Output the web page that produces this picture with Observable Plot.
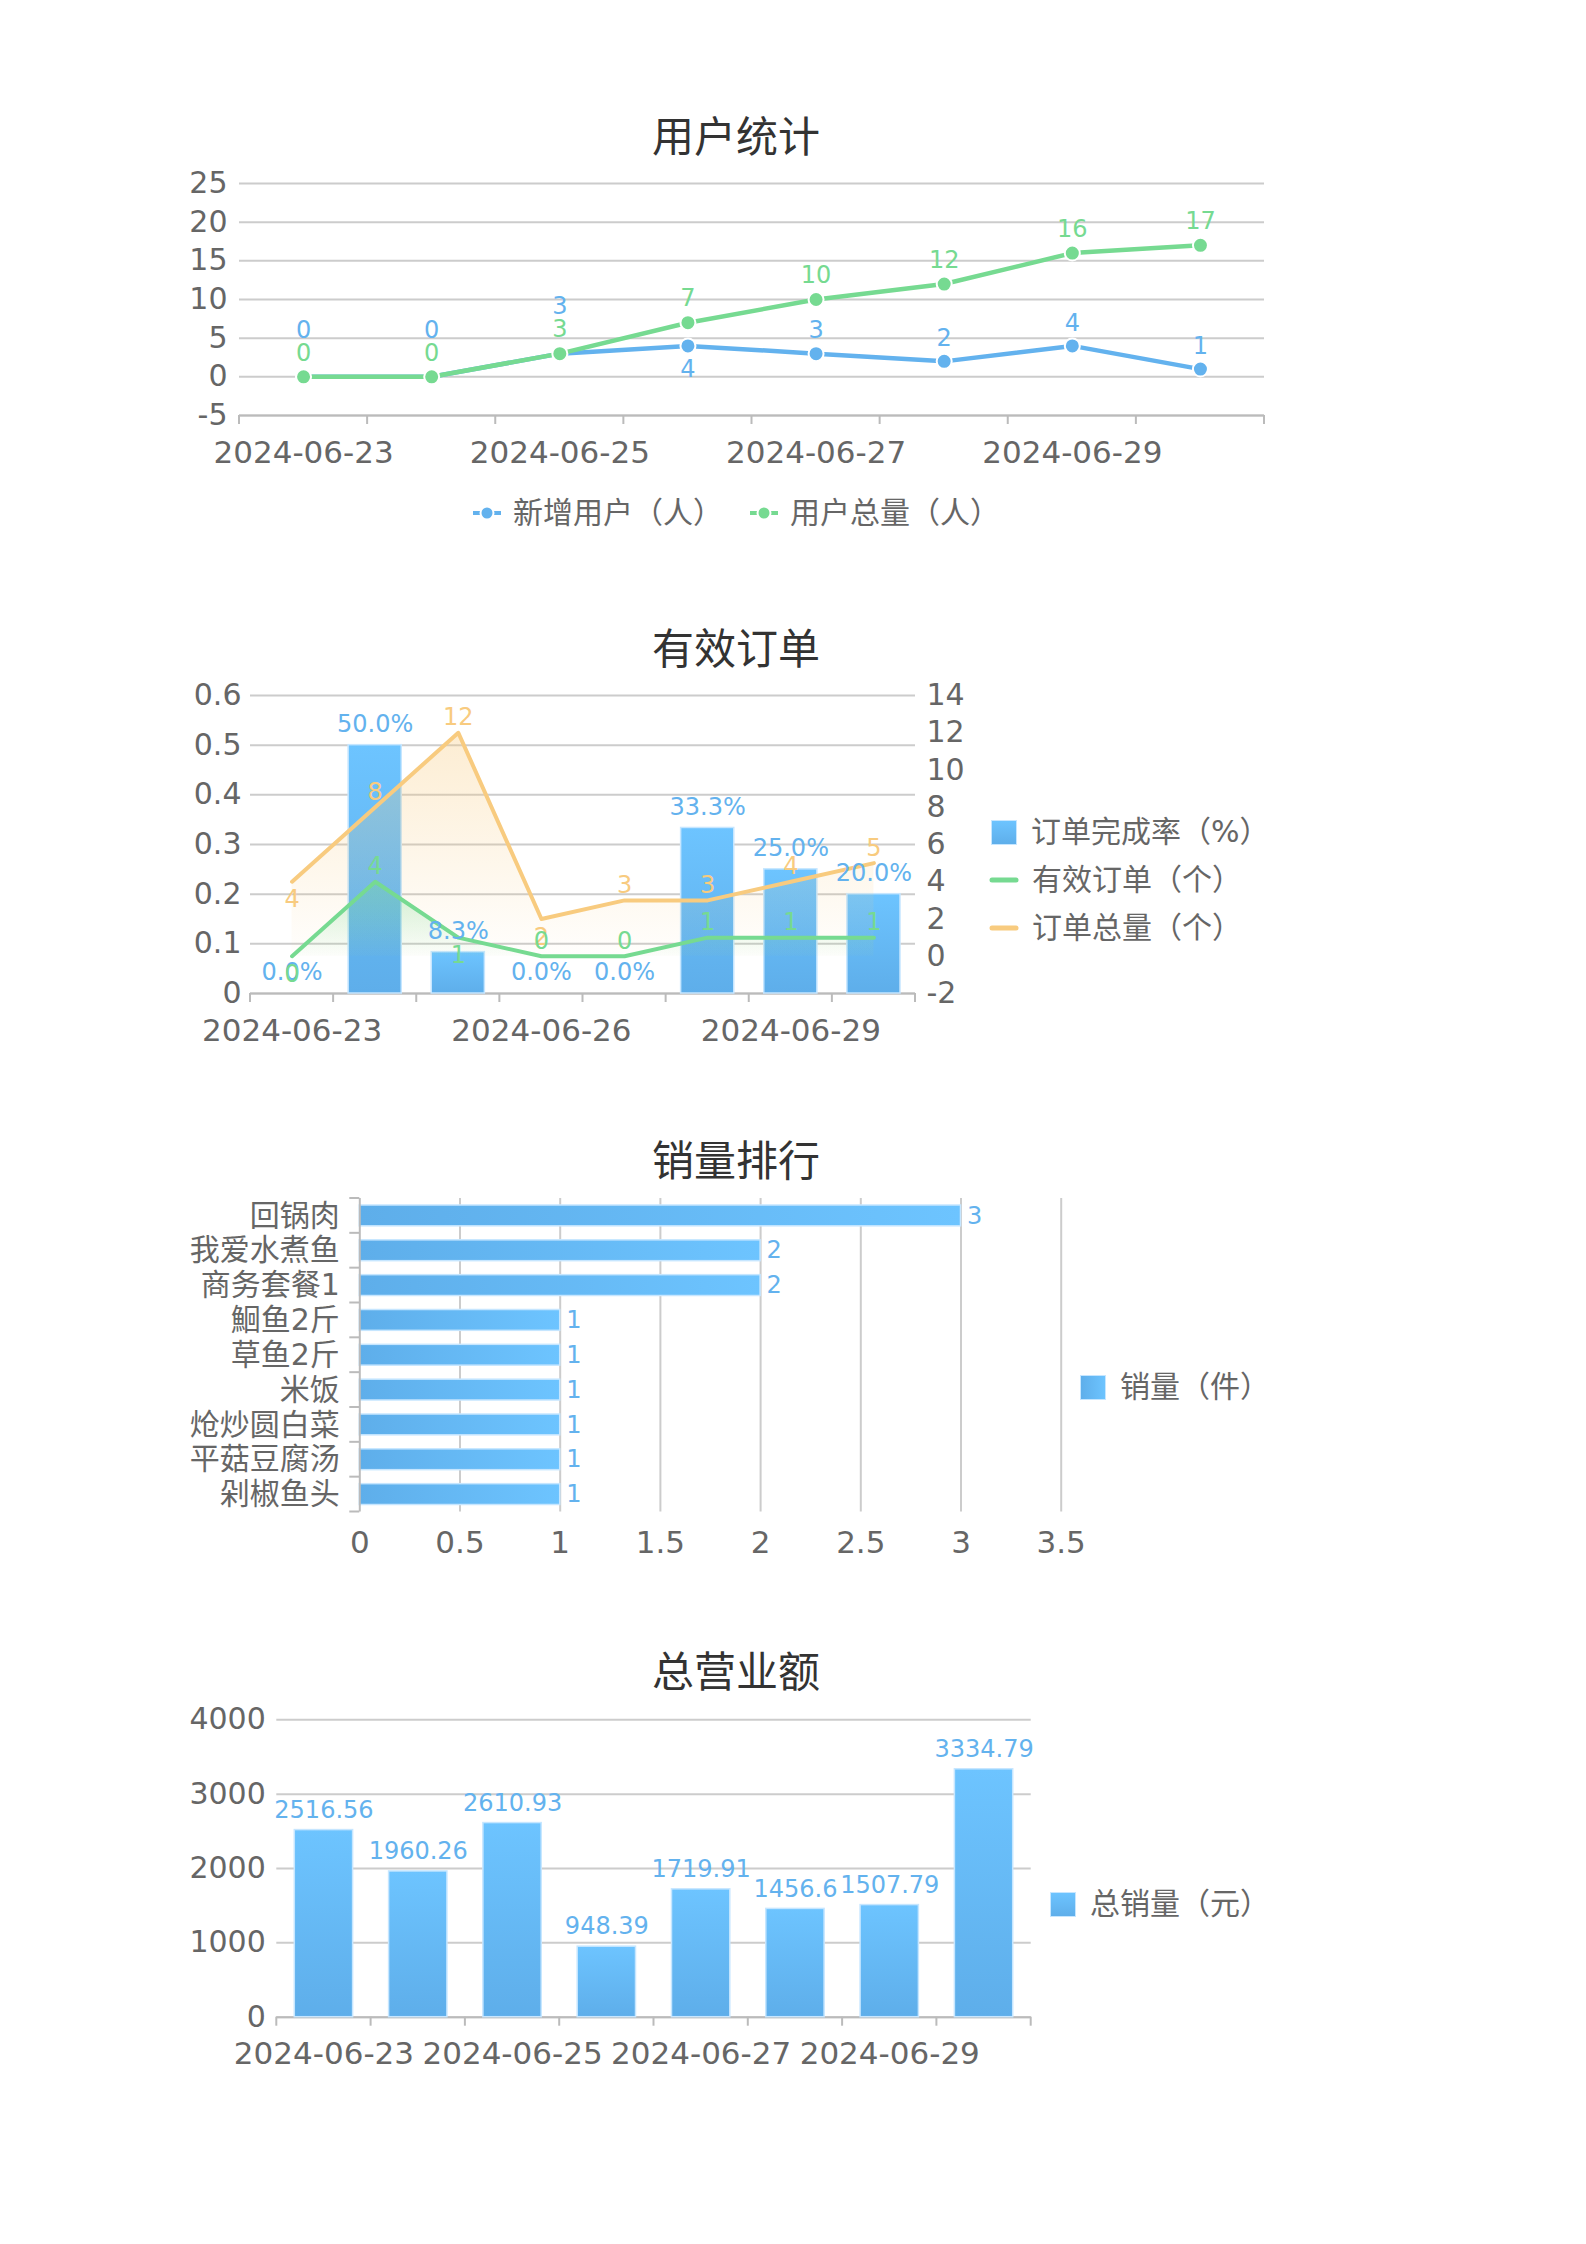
<!DOCTYPE html>
<html><head><meta charset="utf-8">
<script src="https://cdn.jsdelivr.net/npm/d3@7"></script>
<script src="https://cdn.jsdelivr.net/npm/@observablehq/plot@0.6"></script>
<style>
html,body{margin:0;padding:0;background:#fff;}
#page{position:relative;width:1586px;height:2244px;font-family:"DejaVu Sans","Noto Sans CJK SC",sans-serif;overflow:hidden;}
.chart{position:absolute;left:0;}
.title{position:absolute;font-family:"Noto Sans CJK SC","DejaVu Sans",sans-serif;font-size:42px;color:#333;line-height:1;transform:translate(-50%,-50%);white-space:nowrap;}
.leg{position:absolute;display:flex;align-items:center;color:#666;line-height:1;white-space:nowrap;transform:translateY(-50%);font-family:"DejaVu Sans","Noto Sans CJK SC",sans-serif;}
.leg svg{display:block;}
</style></head>
<body>
<svg width="0" height="0" style="position:absolute">
<defs>
<linearGradient id="barV" x1="0" y1="0" x2="0" y2="1"><stop offset="0" stop-color="#6dc4ff"/><stop offset="1" stop-color="#5eaeea"/></linearGradient>
<linearGradient id="barH" x1="0" y1="0" x2="1" y2="0"><stop offset="0" stop-color="#5eaeea"/><stop offset="1" stop-color="#6dc4ff"/></linearGradient>
<linearGradient id="areaO" x1="0" y1="0" x2="0" y2="1"><stop offset="0" stop-color="#f8cb7f" stop-opacity="0.35"/><stop offset="1" stop-color="#f8cb7f" stop-opacity="0.02"/></linearGradient>
<linearGradient id="areaG" x1="0" y1="0" x2="0" y2="1"><stop offset="0" stop-color="#76da91" stop-opacity="0.35"/><stop offset="1" stop-color="#76da91" stop-opacity="0.02"/></linearGradient>
</defs></svg>
<div id="page"></div>
<script>
// ---------- data ----------
const userDates = ["2024-06-23","2024-06-24","2024-06-25","2024-06-26","2024-06-27","2024-06-28","2024-06-29","2024-06-30"];
const newUsers = [0, 0, 3, 4, 3, 2, 4, 1];
const totalUsers = [0, 0, 3, 7, 10, 12, 16, 17];
const userYTicks = [-5, 0, 5, 10, 15, 20, 25];

const orderDates = ["2024-06-23","2024-06-24","2024-06-25","2024-06-26","2024-06-27","2024-06-28","2024-06-29","2024-06-30"];
const completionRate = [0, 0.5, 0.0833, 0, 0, 0.3333, 0.25, 0.2];
const validOrders = [0, 4, 1, 0, 0, 1, 1, 1];
const totalOrders = [4, 8, 12, 2, 3, 3, 4, 5];
const orderYTicks = [0, 0.1, 0.2, 0.3, 0.4, 0.5, 0.6];
const orderY2Ticks = [-2, 0, 2, 4, 6, 8, 10, 12, 14];
const validLabelSide = ["bottom","top","bottom","top","top","top","top","top"];
const totalLabelSide = ["bottom","top","top","bottom","top","top","top","top"];

const foods = ["回锅肉","我爱水煮鱼","商务套餐1","鮰鱼2斤","草鱼2斤","米饭","炝炒圆白菜","平菇豆腐汤","剁椒鱼头"];
const foodSales = [3, 2, 2, 1, 1, 1, 1, 1, 1];
const salesXTicks = [0, 0.5, 1, 1.5, 2, 2.5, 3, 3.5];

const revenueDates = ["2024-06-23","2024-06-24","2024-06-25","2024-06-26","2024-06-27","2024-06-28","2024-06-29","2024-06-30"];
const revenue = [2516.56, 1960.26, 2610.93, 948.39, 1719.91, 1456.6, 1507.79, 3334.79];
const revenueYTicks = [0, 1000, 2000, 3000, 4000];

// ---------- style ----------
const BLUE = "#63b2ee", GREEN = "#76da91", ORANGE = "#f8cb7f";
const W = 1586;
const FONT = '"DejaVu Sans","Noto Sans CJK SC",sans-serif';
const baseStyle = {fontFamily: FONT, fontSize: "30px", color: "#666", background: "transparent", overflow: "visible"};
const page = document.getElementById("page");

function bandTicksX(n, len) {
  return (index, scales, values, dims) => {
    const g = d3.create("svg:g").attr("stroke", "#bbb").attr("stroke-width", 2);
    const x0 = dims.marginLeft, x1 = dims.width - dims.marginRight, y = dims.height - dims.marginBottom;
    for (let k = 0; k <= n; k++) {
      const x = x0 + (x1 - x0) * k / n;
      g.append("line").attr("x1", x).attr("x2", x).attr("y1", y).attr("y2", y + len);
    }
    return g.node();
  };
}
function bandTicksY(n, len) {
  return (index, scales, values, dims) => {
    const g = d3.create("svg:g").attr("stroke", "#bbb").attr("stroke-width", 2);
    const y0 = dims.marginTop, y1 = dims.height - dims.marginBottom, x = dims.marginLeft;
    for (let k = 0; k <= n; k++) {
      const y = y0 + (y1 - y0) * k / n;
      g.append("line").attr("x1", x - len).attr("x2", x).attr("y1", y).attr("y2", y);
    }
    return g.node();
  };
}
function place(node, top) {
  const d = document.createElement("div");
  d.className = "chart"; d.style.top = top + "px";
  d.appendChild(node); page.appendChild(d);
}
function title(text, cx, cy) {
  const d = document.createElement("div");
  d.className = "title"; d.textContent = text;
  d.style.left = cx + "px"; d.style.top = cy + "px";
  page.appendChild(d);
}
function legendItem(left, cy, iconSvg, text, fs, gap) {
  const d = document.createElement("div");
  d.className = "leg"; d.style.left = left + "px"; d.style.top = cy + "px"; d.style.fontSize = fs + "px";
  d.innerHTML = iconSvg + `<span style="margin-left:${gap}px">${text}</span>`;
  page.appendChild(d);
}
const dotIcon = c => `<svg width="30" height="18"><line x1="1" x2="29" y1="9" y2="9" stroke="${c}" stroke-width="4"/><circle cx="15" cy="9" r="6.5" fill="${c}" stroke="#fff" stroke-width="2"/></svg>`;
const lineIcon = c => `<svg width="30" height="8"><line x1="3" x2="27" y1="4" y2="4" stroke="${c}" stroke-width="5" stroke-linecap="round"/></svg>`;
const rectIcon = (grad) => `<svg width="26" height="25"><rect x="0.5" y="0.5" width="25" height="24" fill="url(#${grad})" stroke="#c6e6ff" stroke-width="1"/></svg>`;

// ---------- chart 1: 用户统计 ----------
title("用户统计", 736, 134);
const blueDy = i => newUsers[i] === totalUsers[i] ? -47 : (totalUsers[i] - newUsers[i] <= 3 ? 23 : -23);
const idx = d3.range(userDates.length);
const blueGroups = d3.groups(idx, blueDy);
const c1 = Plot.plot({
  width: W, height: 320,
  marginTop: 23, marginBottom: 65, marginLeft: 239, marginRight: 322,
  style: baseStyle,
  x: {type: "band", domain: userDates, padding: 0, round: false},
  y: {domain: [-5, 25]},
  marks: [
    Plot.gridY({ticks: userYTicks, stroke: "#ccc", strokeOpacity: 1, strokeWidth: 2}),
    Plot.ruleY([-5], {stroke: "#bbb", strokeWidth: 2}),
    bandTicksX(userDates.length, 9),
    Plot.axisY({ticks: userYTicks, tickFormat: d => String(d), tickSize: 0, tickPadding: 12, fontSize: 30, label: null}),
    Plot.axisX({ticks: userDates.filter((d, i) => i % 2 === 0), tickSize: 0, tickPadding: 25, fontSize: 31, label: null}),
    Plot.line(idx, {x: i => userDates[i], y: i => newUsers[i], stroke: BLUE, strokeWidth: 4.5}),
    Plot.dot(idx, {x: i => userDates[i], y: i => newUsers[i], r: 7.5, fill: BLUE, stroke: "#fff", strokeWidth: 2}),
    Plot.line(idx, {x: i => userDates[i], y: i => totalUsers[i], stroke: GREEN, strokeWidth: 4.5}),
    Plot.dot(idx, {x: i => userDates[i], y: i => totalUsers[i], r: 7.5, fill: GREEN, stroke: "#fff", strokeWidth: 2}),
    ...blueGroups.map(([dy, ii]) => Plot.text(ii, {x: i => userDates[i], y: i => newUsers[i], text: i => String(newUsers[i]), fill: BLUE, fontSize: 24, dy, lineAnchor: "middle"})),
    Plot.text(idx, {x: i => userDates[i], y: i => totalUsers[i], text: i => String(totalUsers[i]), fill: GREEN, fontSize: 24, dy: -24, lineAnchor: "middle"})
  ]
});
place(c1, 160);
legendItem(472, 513, dotIcon(BLUE), "新增用户（人）", 30, 11);
legendItem(749, 513, dotIcon(GREEN), "用户总量（人）", 30, 11);

// ---------- chart 2: 有效订单 ----------
title("有效订单", 736, 646);
const y2 = d3.scaleLinear([-2, 14], [0, 0.6]);
const oi = d3.range(orderDates.length);
const sideDy = s => s === "top" ? -15 : 18;
const c2 = Plot.plot({
  width: W, height: 380,
  marginTop: 15, marginBottom: 67, marginLeft: 250, marginRight: 671,
  style: baseStyle,
  x: {type: "band", domain: orderDates, padding: 0, round: false},
  y: {domain: [0, 0.6]},
  marks: [
    Plot.gridY({ticks: orderYTicks, stroke: "#ccc", strokeOpacity: 1, strokeWidth: 2}),
    Plot.ruleY([0], {stroke: "#bbb", strokeWidth: 2}),
    bandTicksX(orderDates.length, 9),
    Plot.axisY({ticks: orderYTicks, tickFormat: d => String(+d.toFixed(1)), tickSize: 0, tickPadding: 9, fontSize: 30, label: null}),
    Plot.axisY({anchor: "right", ticks: orderY2Ticks.map(y2), tickFormat: v => String(Math.round(y2.invert(v))), tickSize: 0, tickPadding: 11, fontSize: 30, label: null}),
    Plot.axisX({ticks: orderDates.filter((d, i) => i % 3 === 0), tickSize: 0, tickPadding: 25, fontSize: 31, label: null}),
    Plot.barY(oi, {x: i => orderDates[i], y: i => completionRate[i], fill: "url(#barV)", stroke: "#c6e6ff", strokeWidth: 1.5, insetLeft: 15, insetRight: 15}),
    Plot.areaY(oi, {x: i => orderDates[i], y1: () => y2(0), y2: i => y2(totalOrders[i]), fill: "url(#areaO)"}),
    Plot.areaY(oi, {x: i => orderDates[i], y1: () => y2(0), y2: i => y2(validOrders[i]), fill: "url(#areaG)"}),
    Plot.line(oi, {x: i => orderDates[i], y: i => y2(totalOrders[i]), stroke: ORANGE, strokeWidth: 4}),
    Plot.line(oi, {x: i => orderDates[i], y: i => y2(validOrders[i]), stroke: GREEN, strokeWidth: 4}),
    Plot.text(oi, {x: i => orderDates[i], y: i => completionRate[i], text: i => (completionRate[i] * 100).toFixed(1) + "%", fill: BLUE, fontSize: 24, dy: -21, lineAnchor: "middle"}),
    ...["top", "bottom"].map(s => Plot.text(oi.filter(i => totalLabelSide[i] === s), {x: i => orderDates[i], y: i => y2(totalOrders[i]), text: i => String(totalOrders[i]), fill: ORANGE, fontSize: 24, dy: sideDy(s), lineAnchor: "middle"})),
    ...["top", "bottom"].map(s => Plot.text(oi.filter(i => validLabelSide[i] === s), {x: i => orderDates[i], y: i => y2(validOrders[i]), text: i => String(validOrders[i]), fill: GREEN, fontSize: 24, dy: sideDy(s), lineAnchor: "middle"}))
  ]
});
place(c2, 680);
legendItem(991, 832, rectIcon("barV"), "订单完成率（%）", 30, 14);
legendItem(989, 880, lineIcon(GREEN), "有效订单（个）", 30, 13);
legendItem(989, 928, lineIcon(ORANGE), "订单总量（个）", 30, 13);

// ---------- chart 3: 销量排行 ----------
title("销量排行", 736, 1158);
const fi = d3.range(foods.length);
const c3 = Plot.plot({
  width: W, height: 380,
  marginTop: 8, marginBottom: 58.5, marginLeft: 359.3, marginRight: 525.3,
  style: baseStyle,
  x: {domain: [0, 3.5]},
  y: {type: "band", domain: foods, padding: 0, round: false},
  marks: [
    Plot.gridX({ticks: salesXTicks.filter(d => d > 0), stroke: "#ccc", strokeOpacity: 1, strokeWidth: 2}),
    Plot.barX(fi, {y: i => foods[i], x: i => foodSales[i], fill: "url(#barH)", stroke: "#c6e6ff", strokeWidth: 1.5, insetTop: 7, insetBottom: 7}),
    Plot.ruleX([0], {stroke: "#bbb", strokeWidth: 2}),
    bandTicksY(foods.length, 10),
    Plot.axisY({tickSize: 0, tickPadding: 20, fontSize: 30, label: null}),
    Plot.axisX({ticks: salesXTicks, tickFormat: d => String(d), tickSize: 0, tickPadding: 19, fontSize: 31, label: null}),
    Plot.text(fi, {y: i => foods[i], x: i => foodSales[i], text: i => String(foodSales[i]), fill: BLUE, fontSize: 24, dx: 6, textAnchor: "start", lineAnchor: "middle"})
  ]
});
place(c3, 1190);
legendItem(1080, 1387, rectIcon("barH"), "销量（件）", 30, 14);

// ---------- chart 4: 总营业额 ----------
title("总营业额", 736, 1669);
const ri = d3.range(revenueDates.length);
const c4 = Plot.plot({
  width: W, height: 390,
  marginTop: 19.3, marginBottom: 73.3, marginLeft: 276.3, marginRight: 555.3,
  style: baseStyle,
  x: {type: "band", domain: revenueDates, padding: 0, round: false},
  y: {domain: [0, 4000]},
  marks: [
    Plot.gridY({ticks: revenueYTicks, stroke: "#ccc", strokeOpacity: 1, strokeWidth: 2}),
    Plot.ruleY([0], {stroke: "#bbb", strokeWidth: 2}),
    bandTicksX(revenueDates.length, 9),
    Plot.axisY({ticks: revenueYTicks, tickFormat: d => String(d), tickSize: 0, tickPadding: 11, fontSize: 30, label: null}),
    Plot.axisX({ticks: revenueDates.filter((d, i) => i % 2 === 0), tickSize: 0, tickPadding: 25, fontSize: 31, label: null}),
    Plot.barY(ri, {x: i => revenueDates[i], y: i => revenue[i], fill: "url(#barV)", stroke: "#c6e6ff", strokeWidth: 1.5, insetLeft: 18, insetRight: 18}),
    Plot.text(ri, {x: i => revenueDates[i], y: i => revenue[i], text: i => String(revenue[i]), fill: BLUE, fontSize: 24, dy: -20, lineAnchor: "middle"})
  ]
});
place(c4, 1700);
legendItem(1050, 1904, rectIcon("barV"), "总销量（元）", 30, 14);
</script>
</body></html>
